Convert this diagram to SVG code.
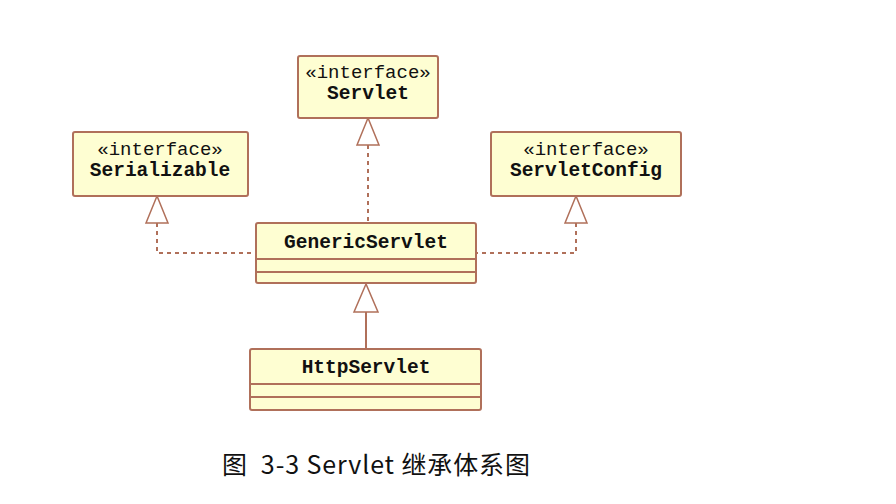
<svg xmlns="http://www.w3.org/2000/svg" width="896" height="504" viewBox="0 0 896 504">
<style>
.box{fill:#FEFED2;stroke:#B0705A;stroke-width:2}
.div{stroke:#B0705A;stroke-width:2}
.st{font-family:"Liberation Mono",monospace;font-size:19px;fill:#111;text-anchor:middle}
.nm{font-family:"Liberation Mono",monospace;font-size:19.5px;font-weight:bold;fill:#111;text-anchor:middle}
.dash{fill:none;stroke:#B0705A;stroke-width:2;stroke-dasharray:4 4}
.sol{fill:none;stroke:#B0705A;stroke-width:2}
.tri{fill:#fff;stroke:#B0705A;stroke-width:1.5}
.cap{font-family:"Noto Sans CJK SC","Noto Sans",sans-serif;font-size:25px;fill:#111}
</style>
<rect width="896" height="504" fill="#fff"/>
<g id="connectors">
<path class="dash" d="M368 145 V223"/>
<path class="tri" d="M368 118 L357 145 L379 145 Z"/>
<path class="dash" d="M157 223 V253 H256"/>
<path class="tri" d="M157 196 L146 223 L168 223 Z"/>
<path class="dash" d="M576 223 V253 H476"/>
<path class="tri" d="M576 196 L565 223 L587 223 Z"/>
<path class="sol" d="M366 312 V349"/>
<path class="tri" d="M366 284 L354 312 L378 312 Z"/>
</g>
<g id="Servlet">
<rect class="box" x="298" y="56" width="140" height="62" rx="2"/>
<text class="st" x="368" y="78">«interface»</text>
<text class="nm" x="368" y="99">Servlet</text>
</g>
<g id="Serializable">
<rect class="box" x="73" y="132" width="175" height="64" rx="2"/>
<text class="st" x="160" y="155">«interface»</text>
<text class="nm" x="160" y="176">Serializable</text>
</g>
<g id="ServletConfig">
<rect class="box" x="491" y="132" width="190" height="64" rx="2"/>
<text class="st" x="586" y="155">«interface»</text>
<text class="nm" x="586" y="176">ServletConfig</text>
</g>
<g id="GenericServlet">
<rect class="box" x="256" y="223" width="220" height="60" rx="2"/>
<line class="div" x1="256" y1="259" x2="476" y2="259"/>
<line class="div" x1="256" y1="272" x2="476" y2="272"/>
<text class="nm" x="366" y="248">GenericServlet</text>
</g>
<g id="HttpServlet">
<rect class="box" x="250" y="349" width="231" height="61" rx="2"/>
<line class="div" x1="250" y1="384" x2="481" y2="384"/>
<line class="div" x1="250" y1="397" x2="481" y2="397"/>
<text class="nm" x="366" y="373">HttpServlet</text>
</g>
<text class="cap" x="222" y="474" xml:space="preserve" textLength="308" lengthAdjust="spacing">图  3-3 Servlet 继承体系图</text>
</svg>
